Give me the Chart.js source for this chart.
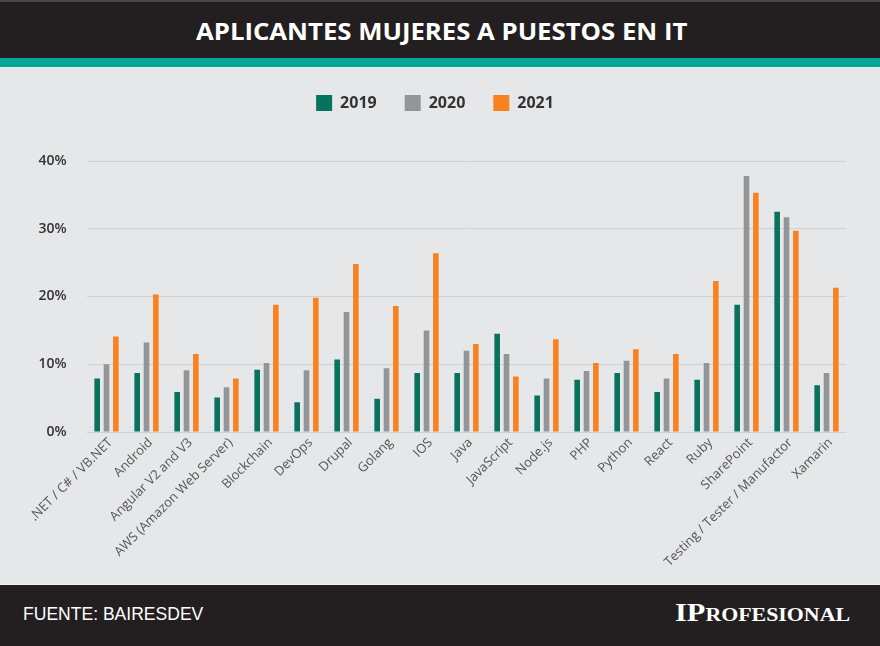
<!DOCTYPE html>
<html>
<head>
<meta charset="utf-8">
<title>Aplicantes mujeres a puestos en IT</title>
<script src="https://cdn.jsdelivr.net/npm/chart.js@4.4.0/dist/chart.umd.min.js"></script>
<style>
    html, body { margin: 0; padding: 0; }
    body { width: 880px; height: 646px; background: #e6e7e9; position: relative; overflow: hidden; font-family: "Open Sans", sans-serif; }
    #head { position: absolute; left: 0; top: 0; width: 880px; height: 58px; background: #231f20; border-top: 2px solid #4a4748; box-sizing: border-box; }
    #stripe { position: absolute; left: 0; top: 58px; width: 880px; height: 9px; background: #05a898; }
    #title { position: absolute; left: 196px; top: 12px; color: #fff; font: bold 24px "Open Sans", sans-serif; white-space: nowrap; transform-origin: 0 0; }
    #wrap { position: absolute; left: 0; top: 67px; width: 880px; height: 518px; }
    #foot { position: absolute; left: 0; top: 584px; width: 880px; height: 62px; background: #231f20; border-top: 1px solid #f4f4f4; box-sizing: border-box; }
    #fuente { position: absolute; left: 23px; top: 18px; color: #fff; font: 19px "Liberation Sans Narrow", "Liberation Sans", sans-serif; white-space: nowrap; transform-origin: 0 0; }
    #logo { position: absolute; left: 675px; top: 14px; color: #fff; font: bold 25px "Liberation Serif", serif; font-variant: small-caps; white-space: nowrap; transform-origin: 0 0; }
</style>
</head>
<body>
<div id="head"><span id="title">APLICANTES MUJERES A PUESTOS EN IT</span></div>
<div id="stripe"></div>
<div id="wrap"><canvas id="myChart"></canvas></div>
<div id="foot"><span id="fuente">FUENTE: BAIRESDEV</span><span id="logo">IProfesional</span></div>
<script>
// datos (porcentaje)
var categorias = [".NET / C# / VB.NET", "Android", "Angular V2 and V3", "AWS (Amazon Web Server)", "Blockchain", "DevOps", "Drupal", "Golang", "IOS", "Java", "JavaScript", "Node.js", "PHP", "Python", "React", "Ruby", "SharePoint", "Testing / Tester / Manufactor", "Xamarin"];
var anios = ["2019", "2020", "2021"];
var v2019 = [7.9, 8.7, 5.9, 5.1, 9.2, 4.4, 10.7, 4.9, 8.7, 8.7, 14.5, 5.4, 7.7, 8.7, 5.9, 7.7, 18.8, 32.5, 6.9];
var v2020 = [10.0, 13.2, 9.1, 6.6, 10.2, 9.1, 17.7, 9.4, 15.0, 12.0, 11.5, 7.9, 9.0, 10.5, 7.9, 10.2, 37.8, 31.7, 8.7];
var v2021 = [14.1, 20.3, 11.5, 7.9, 18.8, 19.8, 24.8, 18.6, 26.4, 13.0, 8.2, 13.7, 10.2, 12.2, 11.5, 22.3, 35.3, 29.7, 21.3];
var ticksY = [0, 10, 20, 30, 40];
var colores = ["#07735d", "#939598", "#f7821f"];

// ajustar ancho de los textos de cabecera y pie
function fitWidth(id, w) {
    var el = document.getElementById(id);
    el.style.display = "inline-block";
    el.style.transform = "scaleX(" + (w / el.offsetWidth) + ")";
}
fitWidth("title", 491);
fitWidth("fuente", 180);
fitWidth("logo", 175);

// altura fija de la leyenda
var legendHeight = {
    id: "legendHeight",
    beforeInit: function (chart) {
        var fit = chart.legend.fit;
        chart.legend.fit = function () {
            fit.bind(chart.legend)();
            this.height = 94;
        };
    }
};

var series = [v2019, v2020, v2021];
var datasets = [];
for (var i = 0; i < series.length; i++) {
    datasets.push({
        label: anios[i],
        data: series[i],
        backgroundColor: colores[i],
        borderWidth: 0,
        barPercentage: 0.6,
        categoryPercentage: 0.7
    });
}

var ctx = document.getElementById("myChart");
var myChart = new Chart(ctx, {
    type: "bar",
    data: { labels: categorias, datasets: datasets },
    plugins: [legendHeight],
    options: {
        responsive: true,
        maintainAspectRatio: false,
        animation: false,
        layout: { padding: { left: 0, right: 10, top: 0, bottom: 0 } },
        plugins: {
            legend: {
                position: "top",
                labels: {
                    boxWidth: 16,
                    boxHeight: 16,
                    padding: 28,
                    color: "#333333",
                    font: { family: "'Open Sans', sans-serif", size: 16, weight: "bold" }
                }
            },
            tooltip: { enabled: false }
        },
        scales: {
            x: {
                grid: { display: false, drawTicks: false },
                border: { display: false },
                ticks: {
                    minRotation: 45,
                    maxRotation: 45,
                    padding: 3,
                    labelOffset: 4,
                    color: "#555555",
                    font: { family: "'Open Sans', sans-serif", size: 13 }
                },
                afterFit: function (s) { s.height = 153; }
            },
            y: {
                min: ticksY[0],
                max: ticksY[ticksY.length - 1],
                grid: { color: "#cfd0d2", lineWidth: 1, drawTicks: false },
                border: { display: false },
                ticks: {
                    stepSize: 10,
                    padding: 20,
                    color: "#333333",
                    font: { family: "'Open Sans', sans-serif", size: 14, weight: 600 },
                    callback: function (v) { return v + "%"; }
                },
                afterFit: function (s) { s.width = 86.5; }
            },
            // eje vacio a la derecha para dejar margen
            yRight: {
                position: "right",
                display: true,
                grid: { display: false, drawTicks: false },
                border: { display: false },
                ticks: { display: false },
                afterFit: function (s) { s.width = 23.5; }
            }
        }
    }
});
</script>
</body>
</html>
